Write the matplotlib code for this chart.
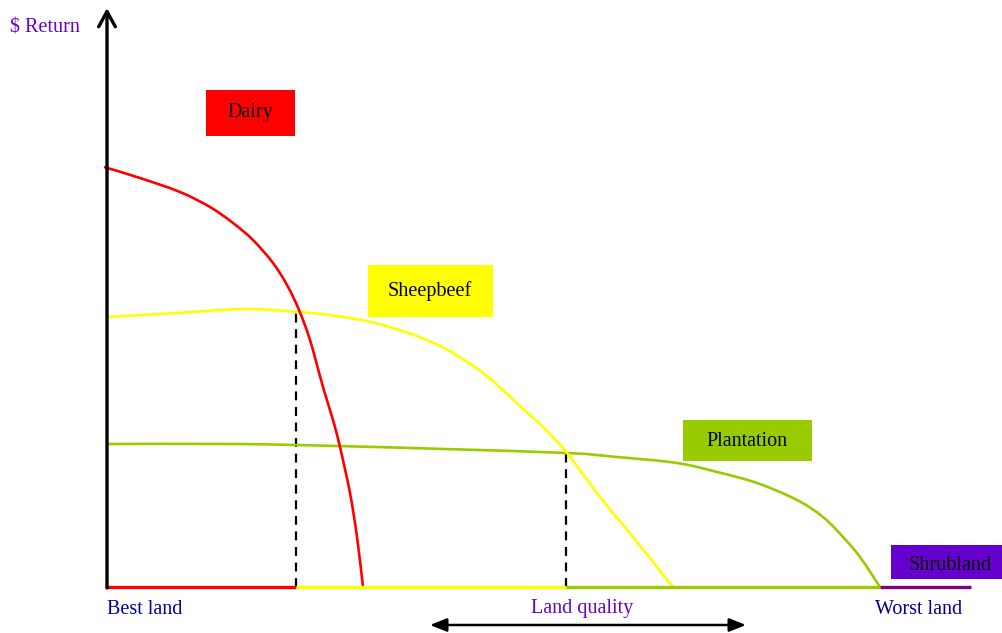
import numpy as np
import matplotlib
matplotlib.use("Agg")
import matplotlib.pyplot as plt
from matplotlib.patches import Rectangle, PathPatch
from matplotlib.path import Path

plt.rcParams['font.family'] = ['Liberation Serif', 'DejaVu Serif']

# land quality (distance from best land) vs $ return
dairy_x = [-3, 33, 73, 103, 126, 146, 166, 180, 192, 203, 216, 226, 233, 243, 250, 256]
dairy_y = [420, 409, 395, 380, 364, 347, 324, 302, 277, 247, 200, 167, 140, 94, 50, 0]

sheep_x = [0, 69, 138, 192, 230, 268, 307, 337, 368, 387, 414, 437, 460, 493, 526, 566]
sheep_y = [270, 274, 278, 275, 271, 264, 252, 239, 220, 205, 180, 159, 134, 90, 50, 0]

plant_x = [0, 131, 230, 337, 460, 510, 570, 610, 650, 690, 716, 736, 753, 773]
plant_y = [143, 143, 141, 138, 134, 130, 124, 115, 104, 87, 70, 50, 30, 0]

# switch points between land uses
switch_x = [189, 459]
switch_y = [277, 134]
land_end = 864

uses = ["Dairy", "Sheepbeef", "Plantation", "Shrubland"]
use_colors = ["#FF0000", "#FFFF00", "#99CC00", "#6600CC"]
base_colors = ["#FF0000", "#FFFF00", "#99CC00", "#800080"]


def smooth_path(xs, ys):
    # catmull-rom through the read points, drawn as cubic beziers
    p = np.column_stack([xs, ys]).astype(float)
    verts = [p[0]]
    codes = [Path.MOVETO]
    n = len(p)
    for i in range(n - 1):
        p0 = p[max(i - 1, 0)]
        p1, p2 = p[i], p[i + 1]
        p3 = p[min(i + 2, n - 1)]
        verts += [p1 + (p2 - p0) / 6, p2 - (p3 - p1) / 6, p2]
        codes += [Path.CURVE4] * 3
    return Path(verts, codes)


fig = plt.figure(figsize=(10.03, 6.33), dpi=100)
ax = fig.add_axes([0, 0, 1, 1])
ax.set_xlim(-107, 896)
ax.set_ylim(-46, 587)
ax.axis("off")

# curves
for xs, ys, col, z in [(plant_x, plant_y, use_colors[2], 2),
                       (sheep_x, sheep_y, use_colors[1], 3),
                       (dairy_x, dairy_y, use_colors[0], 4)]:
    ax.add_patch(PathPatch(smooth_path(xs, ys), facecolor="none", edgecolor=col,
                           lw=1.9, zorder=z))

# coloured baseline showing the best use of each land class
edges = [0] + switch_x + [plant_x[-1], land_end]
for i in range(4):
    ax.plot([edges[i], edges[i + 1]], [0, 0], color=base_colors[i], lw=2.4,
            solid_capstyle="butt", zorder=5)

# dashed switch lines
for sx, sy in zip(switch_x, switch_y):
    ax.plot([sx, sx], [0, sy], color="black", lw=1.6, ls=(0, (4, 3)), zorder=1)

# vertical axis arrow
ax.annotate("", xy=(0, 579), xytext=(0, -1),
            arrowprops=dict(arrowstyle="->,head_length=1.1,head_width=0.6",
                            color="black", lw=2.4, shrinkA=0, shrinkB=0), zorder=6)

# land quality double arrow
ax.annotate("", xy=(323, -38), xytext=(639, -38),
            arrowprops=dict(arrowstyle="<|-|>,head_length=1.0,head_width=0.4",
                            color="black", lw=1.8, shrinkA=0, shrinkB=0))

# label boxes
boxes = [(99, 451, 89, 46), (261, 270, 125, 52), (576, 126, 129, 41), (784, 8, 112, 34)]
label_pos = [(143, 475), (323, 296), (640, 146), (843, 21)]
for (bx, by, bw, bh), (tx, ty), name, col in zip(boxes, label_pos, uses, use_colors):
    ax.add_patch(Rectangle((bx, by), bw, bh, facecolor=col, edgecolor="none", zorder=7))
    ax.text(tx, ty, name, ha="center", va="center", fontsize=14.5, color="black", zorder=8)

ax.text(-97, 559, "$ Return", ha="left", va="center", fontsize=14.5, color="#6600CC")
ax.text(0, -22, "Best land", ha="left", va="center", fontsize=14.5, color="#000099")
ax.text(475, -22, "Land quality", ha="center", va="center", fontsize=14.5, color="#6600CC")
ax.text(812, -22, "Worst land", ha="center", va="center", fontsize=14.5, color="#000099")

fig.savefig("out.png", dpi=100)
